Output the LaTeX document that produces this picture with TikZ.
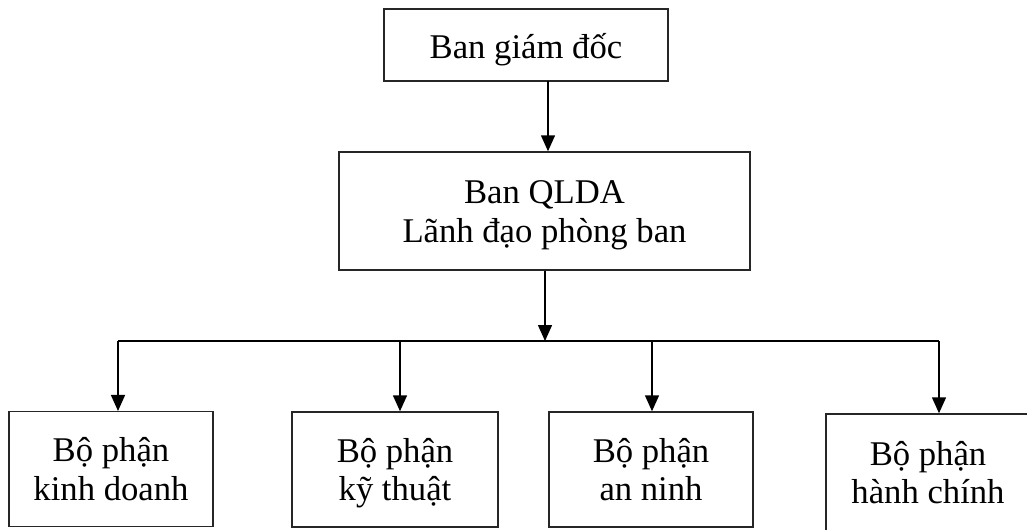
\documentclass[tikz,border=0pt]{standalone}
\usepackage{fontspec}
\setmainfont{Liberation Serif}
\usetikzlibrary{arrows.meta}
\newcommand{\twolines}[2]{\raisebox{-3.2pt}[\height][\depth]{\begin{tabular}{@{}c@{}}#1\\#2\end{tabular}}}
\begin{document}
\begin{tikzpicture}[x=0.75pt,y=-0.75pt,
  box/.style={draw=black!85,line width=1.1pt,rectangle,align=center,inner sep=0pt,
    font=\fontsize{26}{29}\selectfont},
  link/.style={line width=1.1pt,black},
  arr/.style={link,-{Triangle[length=12pt,width=10.5pt]}}]
\useasboundingbox (0,0) rectangle (1027,529);
\node[box,minimum width=284*0.75pt,minimum height=72*0.75pt,text height=25pt,text depth=5.5pt] (top) at (526,45) {Ban giám đốc};
\node[box,minimum width=411*0.75pt,minimum height=118*0.75pt] (mid) at (544.5,211) {\twolines{Ban QLDA}{Lãnh đạo phòng ban}};
\node[box,minimum width=204*0.75pt,minimum height=115*0.75pt] (b1) at (111,469.2) {\twolines{Bộ phận}{kinh doanh}};
\node[box,minimum width=206*0.75pt,minimum height=115*0.75pt] (b2) at (395,469.5) {\twolines{Bộ phận}{kỹ thuật}};
\node[box,minimum width=204*0.75pt,minimum height=115*0.75pt] (b3) at (651,469.5) {\twolines{Bộ phận}{an ninh}};
\node[box,minimum width=204*0.75pt,minimum height=117*0.75pt] (b4) at (928,472.5) {\twolines{Bộ phận}{hành chính}};
\coordinate (t1) at (548,81);
\coordinate (bus) at (545,341);
\coordinate (c1) at (118,341);
\coordinate (c2) at (400,341);
\coordinate (c3) at (652,341);
\coordinate (c4) at (939,341);
\draw[arr] (t1) -- (t1 |- mid.north);
\draw[arr] (bus |- mid.south) -- (bus);
\draw[link] (c1) -- (c4);
\draw[arr] (c1) -- (c1 |- b1.north);
\draw[arr] (c2) -- (c2 |- b2.north);
\draw[arr] (c3) -- (c3 |- b3.north);
\draw[arr] (c4) -- (c4 |- b4.north);
\end{tikzpicture}
\end{document}
